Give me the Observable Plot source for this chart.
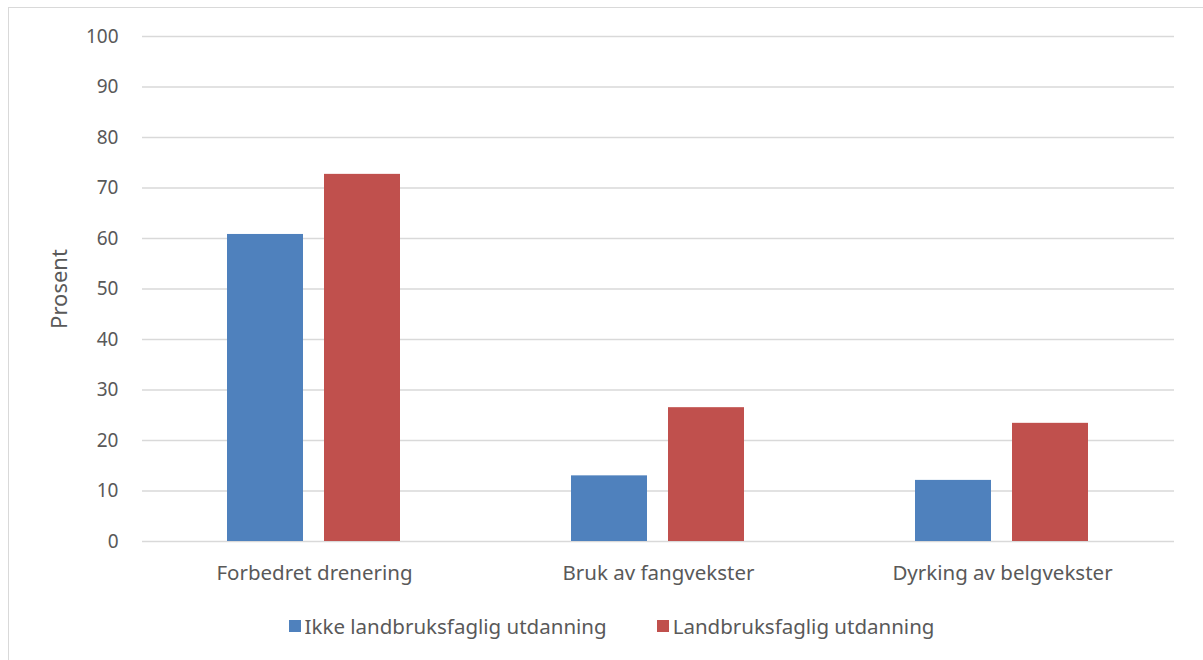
<!DOCTYPE html>
<html>
<head>
<meta charset="utf-8">
<script src="https://cdn.jsdelivr.net/npm/d3@7"></script>
<script src="https://cdn.jsdelivr.net/npm/@observablehq/plot@0.6"></script>
<style>
  html, body { margin: 0; padding: 0; background: #fff; }
  body { width: 1203px; height: 660px; position: relative; overflow: hidden; font-family: "Noto Sans", sans-serif; }
  #frame { position: absolute; left: 8px; top: 7px; width: 1300px; height: 700px; border: 1.5px solid #d9d9d9; box-sizing: border-box; }
  #chart { position: absolute; left: 0; top: 0; }
  #legend { position: absolute; left: 0; top: 612px; width: 1203px; display: flex; justify-content: center; gap: 50px; font-size: 20.5px; color: #595959; padding-left: 20px; box-sizing: border-box; }
  #legend .item { display: flex; align-items: center; }
  #legend .sw { width: 12px; height: 12px; margin-right: 4px; }
</style>
</head>
<body>
<div id="frame"></div>
<div id="chart"></div>
<div id="legend"></div>
<script>
const categories = ["Forbedret drenering", "Bruk av fangvekster", "Dyrking av belgvekster"];
const seriesNames = ["Ikke landbruksfaglig utdanning", "Landbruksfaglig utdanning"];
const ikkeValues = [60.8, 13.0, 12.1];
const landbrukValues = [72.7, 26.5, 23.4];
const yTicks = [0, 10, 20, 30, 40, 50, 60, 70, 80, 90, 100];
const seriesColors = ["#4f81bd", "#c0504d"];
const yLabel = "Prosent";

const data = [];
categories.forEach((c, i) => {
  data.push({category: c, series: seriesNames[0], value: ikkeValues[i]});
  data.push({category: c, series: seriesNames[1], value: landbrukValues[i]});
});

const textColor = "#595959";
const chart = Plot.plot({
  width: 1203,
  height: 600,
  marginLeft: 141,
  marginRight: 28,
  marginTop: 36,
  marginBottom: 59,
  style: {fontFamily: "'Noto Sans', sans-serif", fontSize: "20px", color: textColor, background: "transparent"},
  fx: {domain: categories, padding: 0, label: null},
  x: {domain: seriesNames, paddingInner: 0.214, paddingOuter: 0.866, axis: null},
  y: {domain: [0, 100], ticks: yTicks},
  color: {domain: seriesNames, range: seriesColors},
  marks: [
    Plot.gridY(yTicks, {stroke: "#d9d9d9", strokeOpacity: 1, strokeWidth: 1.5}),
    Plot.barY(data, {fx: "category", x: "series", y: "value", fill: "series"}),
    Plot.axisFx({anchor: "bottom", tickSize: 0, tickPadding: 24, fontSize: 20.5, label: null, fill: textColor}),
    Plot.axisY(yTicks, {tickSize: 0, tickPadding: 24, fontSize: 19, fill: textColor, label: yLabel, labelAnchor: "center", labelArrow: "none", labelOffset: 91})
  ]
});
document.getElementById("chart").appendChild(chart);
// enlarge the axis label a bit to match the reference
chart.querySelectorAll("text").forEach(t => { if (t.textContent === yLabel) t.setAttribute("font-size", "22"); });

const legend = document.getElementById("legend");
seriesNames.forEach((s, i) => {
  const item = document.createElement("div");
  item.className = "item";
  const sw = document.createElement("div");
  sw.className = "sw";
  sw.style.background = seriesColors[i];
  const t = document.createElement("span");
  t.textContent = s;
  item.appendChild(sw);
  item.appendChild(t);
  legend.appendChild(item);
});
</script>
</body>
</html>
